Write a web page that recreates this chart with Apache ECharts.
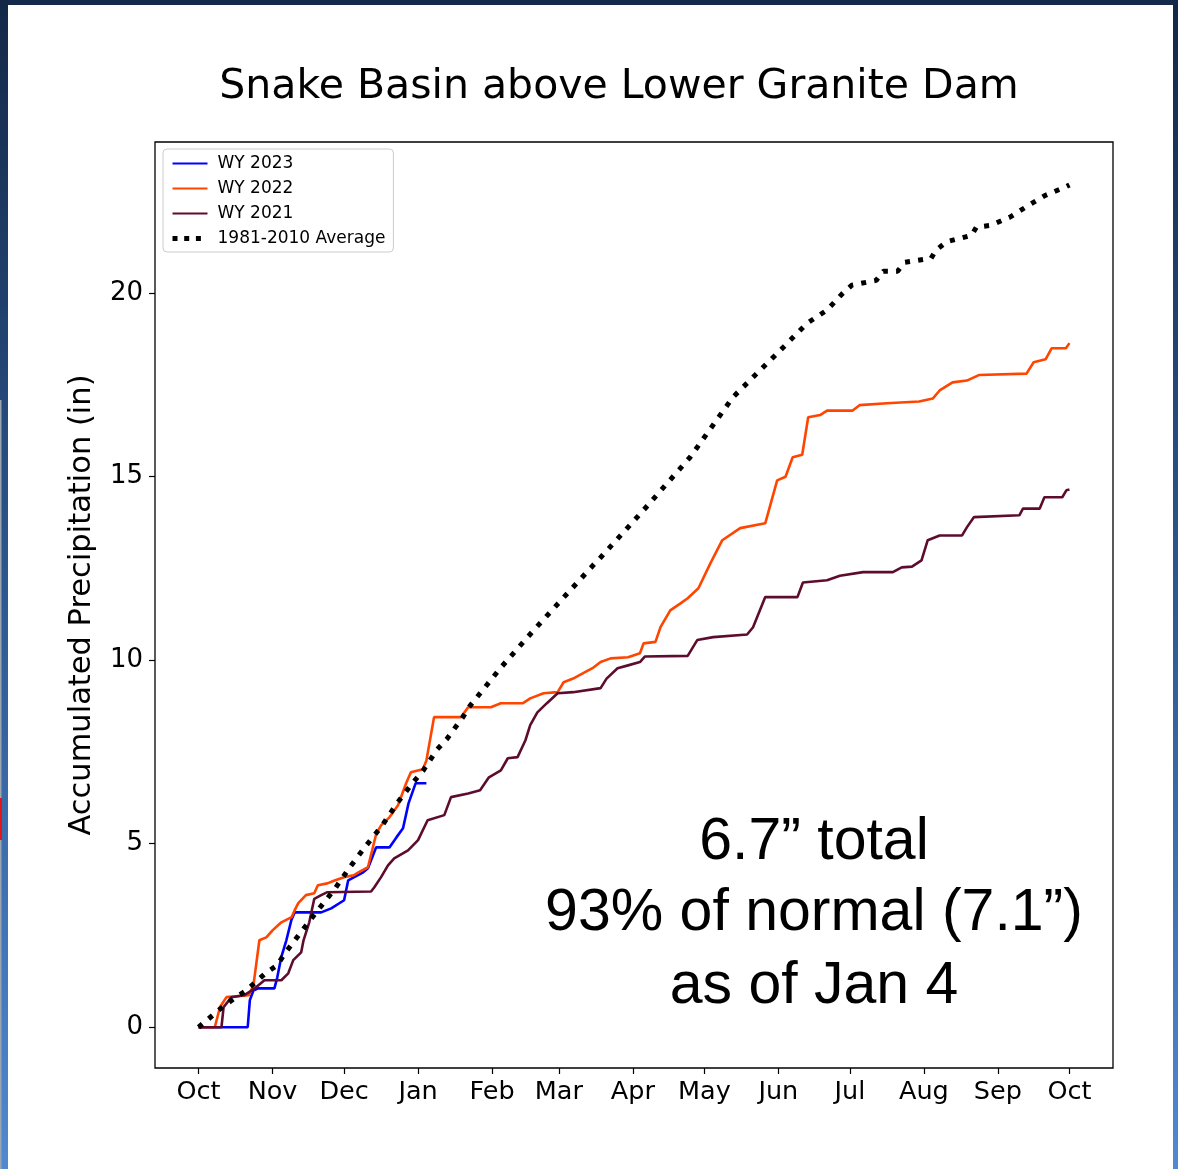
<!DOCTYPE html>
<html>
<head>
<meta charset="utf-8">
<script src="https://cdn.jsdelivr.net/npm/echarts@6/dist/echarts.min.js"></script>
<style>
  html, body { margin: 0; padding: 0; background: #ffffff; }
  #chart { width: 1178px; height: 1169px; }
</style>
</head>
<body>
<div id="chart"></div>
<script>
// Day of water year (0 = Oct 1) and accumulated precipitation (in)
const monthTickDays = [0, 31, 61, 92, 123, 151, 182, 212, 243, 273, 304, 335, 365];
const monthTickLabels = ['Oct', 'Nov', 'Dec', 'Jan', 'Feb', 'Mar', 'Apr', 'May', 'Jun', 'Jul', 'Aug', 'Sep', 'Oct'];
const yTickValues = [0, 5, 10, 15, 20];

const wy2023 = [[0,0],[20.6,0],[21.5,0.74],[23,1.0],[25,1.06],[31.8,1.06],[33,1.36],[34.7,1.92],[36.8,2.37],[38.9,2.92],[40.3,3.13],[51.4,3.13],[55.6,3.24],[61,3.46],[62.7,4.0],[69,4.22],[71,4.33],[74.4,4.9],[80,4.9],[83,5.18],[85.7,5.42],[88,6.1],[91,6.65],[95.5,6.65]];

const wy2022 = [[0,0],[6.8,0],[9,0.55],[11.7,0.82],[21,0.87],[23,1.14],[25.5,2.37],[28.4,2.45],[31,2.64],[34.7,2.86],[39,3.0],[40.3,3.19],[41.8,3.38],[45,3.6],[48.5,3.65],[50,3.87],[54,3.92],[57,4.0],[61,4.09],[65,4.14],[67,4.22],[71,4.36],[74.5,5.28],[76.5,5.5],[80,5.72],[83.6,6.05],[87,6.65],[89,6.95],[94,7.03],[95.5,7.27],[98.7,8.45],[110,8.45],[113,8.72],[122.5,8.72],[126.7,8.83],[136,8.83],[139,8.96],[144.6,9.1],[150.5,9.13],[153,9.4],[157,9.5],[161,9.64],[165.5,9.8],[168.5,9.95],[172.7,10.05],[180,10.08],[185,10.19],[186.5,10.46],[191.5,10.5],[193.6,10.9],[197.7,11.36],[202,11.55],[205,11.69],[209.5,11.96],[214.5,12.64],[219.5,13.27],[227,13.6],[237.5,13.73],[242.5,14.9],[246,15.0],[249,15.53],[253,15.6],[255.5,16.62],[260.5,16.68],[263.4,16.8],[274,16.8],[277,16.95],[288.5,17.0],[302,17.05],[307.7,17.13],[310.6,17.35],[316,17.57],[322,17.62],[327,17.77],[347,17.81],[350,18.12],[355,18.2],[357.5,18.5],[363.5,18.5],[365,18.64]];

const wy2021 = [[0,0],[9.6,0],[10.5,0.55],[13.8,0.82],[19,0.87],[23,1.03],[27.6,1.28],[34.7,1.28],[37.6,1.47],[39.7,1.83],[43,2.04],[44,2.37],[46.4,2.86],[48.5,3.5],[51.4,3.6],[54,3.68],[72.3,3.7],[73.6,3.81],[76.5,4.09],[79.4,4.41],[82,4.6],[87.8,4.82],[92,5.1],[96,5.64],[103,5.78],[105.8,6.27],[113,6.37],[118,6.46],[121.7,6.81],[126.7,7.0],[129.6,7.33],[133.7,7.36],[137,7.82],[139,8.23],[142,8.58],[146,8.83],[150.5,9.1],[157,9.13],[168.5,9.24],[171,9.5],[175.6,9.78],[180,9.86],[185,9.95],[187,10.1],[205,10.12],[209,10.55],[215.7,10.63],[229.9,10.7],[232.4,10.9],[237.5,11.72],[251,11.72],[253.3,12.12],[263.4,12.18],[268.8,12.3],[278.5,12.4],[291,12.4],[294.7,12.53],[299,12.55],[303,12.72],[305.6,13.27],[310.6,13.4],[320,13.4],[322,13.62],[325,13.9],[344,13.95],[345.5,14.13],[352.5,14.13],[354.5,14.44],[362,14.44],[363.7,14.63],[365,14.65]];

const avg8110 = [[0,0],[6,0.33],[10,0.55],[15,0.79],[20,1.0],[28,1.47],[33,1.69],[36,2.0],[43,2.6],[50,3.19],[57,3.76],[63.5,4.37],[70,4.93],[77,5.5],[83.5,6.13],[90,6.68],[94,6.98],[100,7.57],[104,7.85],[110.8,8.45],[113.3,8.72],[126.7,9.8],[140.5,10.82],[154.7,11.83],[165,12.56],[168.5,12.8],[186.5,14.09],[206,15.53],[224,17.17],[242.5,18.36],[255,19.18],[263.4,19.54],[270,20.0],[273.8,20.22],[284,20.35],[287,20.6],[293,20.6],[296,20.84],[307,20.95],[309,21.17],[313.5,21.4],[324,21.58],[326,21.8],[332,21.85],[340,22.07],[348,22.4],[355,22.67],[363.5,22.9],[365,22.95]];

const seriesNames = ['WY 2023', 'WY 2022', 'WY 2021', '1981-2010 Average'];
const titleText = 'Snake Basin above Lower Granite Dam';
const yAxisTitle = 'Accumulated Precipitation (in)';
const noteLines = ['6.7\u201d total', '93% of normal (7.1\u201d)', 'as of Jan 4'];

const FONT = 'DejaVu Sans';
const chart = echarts.init(document.getElementById('chart'), null, { renderer: 'canvas' });

function edgeGradient() {
  return new echarts.graphic.LinearGradient(0, 0, 0, 1, [
    { offset: 0, color: '#132847' },
    { offset: 0.5, color: '#2d578f' },
    { offset: 1, color: '#5089d2' }
  ]);
}

const option = {
  animation: false,
  backgroundColor: '#ffffff',
  title: {
    text: titleText,
    left: 614,
    top: 62,
    textAlign: 'center',
    textStyle: { fontFamily: FONT, fontSize: 41, fontWeight: 'normal', color: '#000' }
  },
  legend: {
    orient: 'vertical',
    left: 163,
    top: 149,
    padding: [6, 8, 5, 7],
    itemWidth: 35,
    itemHeight: 14,
    itemGap: 8,
    backgroundColor: '#ffffff',
    borderColor: '#cccccc',
    borderWidth: 1,
    borderRadius: 4,
    selectedMode: false,
    itemStyle: { opacity: 0 },
    textStyle: { fontFamily: FONT, fontSize: 17, color: '#000', lineHeight: 17, padding: [0, 0, 0, 5] },
    data: [
      { name: seriesNames[0], lineStyle: { width: 2 } },
      { name: seriesNames[1], lineStyle: { width: 2 } },
      { name: seriesNames[2], lineStyle: { width: 2 } },
      { name: seriesNames[3], lineStyle: { width: 5, type: [5, 6.7], cap: 'butt' } }
    ]
  },
  grid: {
    left: 155, right: 65, top: 142, bottom: 101,
    show: true, borderColor: '#000', borderWidth: 1.3, backgroundColor: '#fff'
  },
  xAxis: {
    type: 'value',
    min: -18.25,
    max: 383.25,
    splitLine: { show: false },
    axisLine: { show: false, onZero: false },
    axisTick: {
      show: true, length: 6, inside: false,
      lineStyle: { color: '#000', width: 1.2 },
      customValues: monthTickDays
    },
    axisLabel: {
      customValues: monthTickDays,
      margin: 11,
      fontFamily: FONT, fontSize: 25.5, color: '#000',
      formatter: function (v) {
        const i = monthTickDays.indexOf(v);
        return i >= 0 ? monthTickLabels[i] : '';
      }
    }
  },
  yAxis: {
    type: 'value',
    min: -1.11,
    max: 24.12,
    name: yAxisTitle,
    nameLocation: 'middle',
    nameGap: 57,
    nameTextStyle: { fontFamily: FONT, fontSize: 30.5, color: '#000' },
    splitLine: { show: false },
    axisLine: { show: false, onZero: false },
    axisTick: {
      show: true, length: 6, inside: false,
      lineStyle: { color: '#000', width: 1.2 },
      customValues: yTickValues
    },
    axisLabel: {
      customValues: yTickValues,
      margin: 12,
      fontFamily: FONT, fontSize: 26, color: '#000'
    }
  },
  series: [
    {
      name: seriesNames[0], type: 'line', data: wy2023, symbol: 'none',
      lineStyle: { color: '#0000ff', width: 2.6 }, itemStyle: { color: '#0000ff' }, z: 3
    },
    {
      name: seriesNames[1], type: 'line', data: wy2022, symbol: 'none',
      lineStyle: { color: '#ff4500', width: 2.6 }, itemStyle: { color: '#ff4500' }, z: 4
    },
    {
      name: seriesNames[2], type: 'line', data: wy2021, symbol: 'none',
      lineStyle: { color: '#5e0c2e', width: 2.6 }, itemStyle: { color: '#5e0c2e' }, z: 5
    },
    {
      name: seriesNames[3], type: 'line', data: avg8110, symbol: 'none',
      lineStyle: { color: '#000000', width: 5, type: [5, 8.2], cap: 'butt' },
      itemStyle: { color: '#000000' }, z: 6
    }
  ],
  graphic: [
    { type: 'rect', shape: { x: 0, y: 0, width: 1178, height: 5 }, style: { fill: '#142a4a' }, z: 100 },
    { type: 'rect', shape: { x: 0, y: 0, width: 8, height: 1169 }, style: { fill: edgeGradient() }, z: 100 },
    { type: 'rect', shape: { x: 0, y: 400, width: 1.5, height: 769 }, style: { fill: '#9aa4ae' }, z: 101 },
    { type: 'rect', shape: { x: 0, y: 798, width: 2, height: 42 }, style: { fill: '#e0161b' }, z: 102 },
    { type: 'rect', shape: { x: 1173, y: 0, width: 5, height: 1169 }, style: { fill: edgeGradient() }, z: 100 },
    {
      type: 'text', x: 814, y: 843, z: 50,
      style: { text: noteLines[0], font: '59px "Liberation Sans", Arial, sans-serif', fill: '#000', textAlign: 'center', textVerticalAlign: 'middle' }
    },
    {
      type: 'text', x: 814, y: 914, z: 50,
      style: { text: noteLines[1], font: '59px "Liberation Sans", Arial, sans-serif', fill: '#000', textAlign: 'center', textVerticalAlign: 'middle' }
    },
    {
      type: 'text', x: 814, y: 987, z: 50,
      style: { text: noteLines[2], font: '59px "Liberation Sans", Arial, sans-serif', fill: '#000', textAlign: 'center', textVerticalAlign: 'middle' }
    }
  ]
};

chart.setOption(option);
</script>
</body>
</html>
